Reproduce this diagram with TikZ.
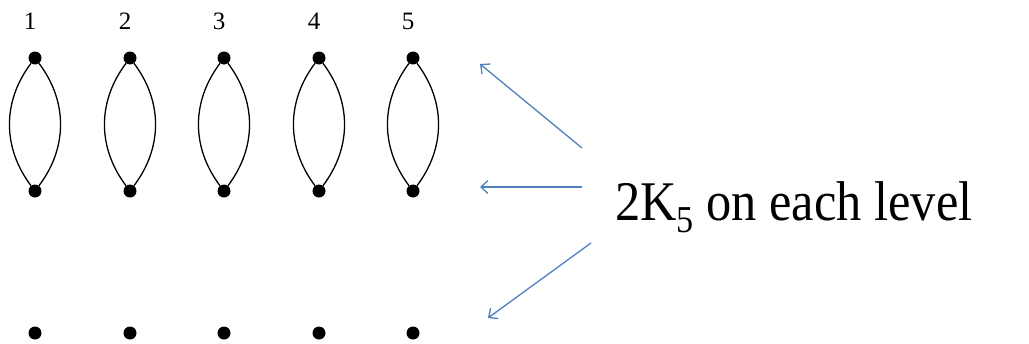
\documentclass[tikz,border=0pt]{standalone}
\usepackage{fontspec}
\setmainfont{Liberation Serif}
\usetikzlibrary{arrows.meta}
\definecolor{arrowblue}{RGB}{79,129,189}
\begin{document}
\begin{tikzpicture}[x=1pt,y=-1pt,
  dot/.style={circle,fill=black,inner sep=0pt,minimum size=13pt},
  lens/.style={line width=1.3pt},
  pointer/.style={arrowblue,line width=1.3pt,-{Straight Barb[length=7pt,width=13pt,line width=1.3pt]}},
  numlabel/.style={font=\fontsize{25}{25}\selectfont,inner sep=0pt}]
\useasboundingbox (0,0) rectangle (1029,343);
\foreach \i/\x in {1/35,2/130,3/224,4/319,5/413}{
  \node[dot] (t\i) at (\x,58) {};
  \node[dot] (b\i) at (\x,191) {};
  \node[dot] (c\i) at (\x,333) {};
  \node[numlabel] (l\i) at (\x-5,21) {\i};
  \draw[lens] (t\i) to[bend right=37] (b\i);
  \draw[lens] (t\i) to[bend left=37] (b\i);
}
\node[anchor=base west,inner sep=0pt,font=\fontsize{56}{56}\selectfont] (txt) at (615,220)
  {\scalebox{0.9}[1]{2K\raisebox{-0.22em}{\fontsize{38}{38}\selectfont 5} on each level}};
\coordinate (s1) at (582,148); \coordinate (e1) at (480,64);
\coordinate (s2) at (582,187); \coordinate (e2) at (480,187);
\coordinate (s3) at (591,243); \coordinate (e3) at (488,318);
\draw[pointer] (s1) -- (e1);
\draw[pointer] (s2) -- (e2);
\draw[pointer] (s3) -- (e3);
\end{tikzpicture}
\end{document}
